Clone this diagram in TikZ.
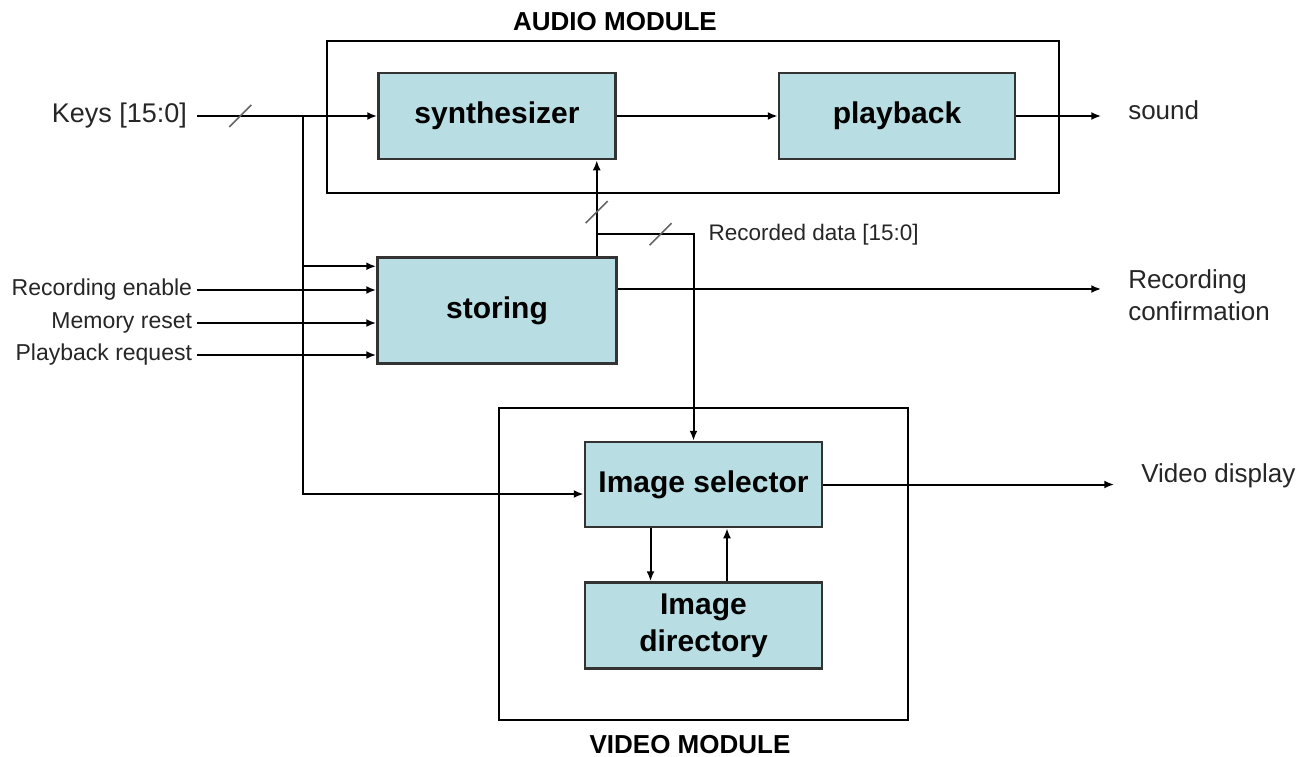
\documentclass[tikz,border=0pt]{standalone}
\usepackage{fontspec}
\setmainfont{Liberation Sans}
\usetikzlibrary{positioning}
\usetikzlibrary{calc}
\usetikzlibrary{arrows.meta}
\definecolor{blockfill}{RGB}{184,222,227}
\newcommand{\busmark}[1]{\draw[black!60,line width=1.6pt] ($(#1)+(-11,11)$) -- ($(#1)+(11,-11)$);}

\begin{document}
\begin{tikzpicture}[x=1pt,y=-1pt,line width=2pt,>={Latex[length=10pt,width=8pt]},
	cnode/.style={rectangle,draw=black!80,fill=blockfill,line width=2.5pt,inner sep=0pt,minimum width=237pt,minimum height=86pt,align=center,font=\fontsize{30}{37}\selectfont\bfseries},
	mnode/.style={rectangle,draw=black,line width=2pt,inner sep=0pt},
	mlabel/.style={font=\fontsize{26}{30}\selectfont\bfseries},
	inlabel/.style={anchor=east,inner sep=4pt,text=black!85,font=\fontsize{23}{28}\selectfont},
	outlabel/.style={anchor=west,inner sep=0pt,text=black!85,align=left,font=\fontsize{26}{32}\selectfont}]
		\useasboundingbox[fill=white] (0,0) rectangle (1314,757);
		% module frames
		\node[mnode,minimum width=732pt,minimum height=152pt] (audio) at (693,117) {};
		\node[mnode,minimum width=409pt,minimum height=312pt] (video) at (703.5,564) {};
		\node[mlabel] (audiolbl) at (615,22) {AUDIO MODULE};
		\node[mlabel] (videolbl) at (690,745) {VIDEO MODULE};
		% blocks
		\node[cnode] (synth) at (497,116) {synthesizer};
		\node[cnode,minimum width=236pt] (play)[right = 161pt of synth]{playback};
		\node[cnode,minimum width=239pt,minimum height=106pt] (store)[below = 96pt of synth]{storing};
		\node[cnode,minimum height=85pt] (sel) at (703.5,484.5) {Image selector};
		\node[cnode] (dir)[below = 53pt of sel]{Image\\directory};
		% inputs
		\node[inlabel,inner sep=9pt,font=\fontsize{27}{32}\selectfont] (keys) at (197,116) {Keys [15:0]};
		\node[inlabel] (recen) at (197,290) {Recording enable};
		\node[inlabel] (memrst) at (197,323) {Memory reset};
		\node[inlabel] (playreq) at (197,355) {Playback request};
		\draw[->] (keys.east) -- (synth.west) coordinate[pos=.24] (keyslash);
		\busmark{keyslash}
		\coordinate (bustop) at (303,116);
		\coordinate (busbot) at (303,494);
		\draw[->] (bustop) -- (busbot) -- (busbot -| sel.west);
		\coordinate (s1) at ($(store.north west)+(0,10)$);
		\draw[->] (s1 -| bustop) -- (s1);
		\draw[->] (recen) -- (recen -| store.west);
		\draw[->] (memrst) -- (memrst -| store.west);
		\draw[->] (playreq) -- (playreq -| store.west);
		% recorded data
		\coordinate (recout) at ($(store.north east)+(-21,0)$);
		\coordinate (recsplit) at ($(recout)+(0,-22)$);
		\coordinate (selin) at ($(sel.north)+(-10,0)$);
		\coordinate (reccorner) at (recsplit -| selin);
		\draw[->] (recout) -- (recout |- synth.south) coordinate[pos=.46] (recslash1);
		\busmark{recslash1}
		\draw[->] (recsplit) -| (selin) coordinate[pos=.33] (recslash2);
		\busmark{recslash2}
		\node[outlabel,inner sep=4pt,right = 10pt of reccorner,font=\fontsize{22.5}{27}\selectfont] (recdata) {Recorded data [15:0]};
		% image selector <-> directory
		\draw[->] ($(sel.south)+(-53,0)$) -- ($(dir.north)+(-53,0)$);
		\draw[->] ($(dir.north)+(23.5,0)$) -- ($(sel.south)+(23.5,0)$);
		% outputs
		\draw[->] (synth) -- (play);
		\coordinate (soundend) at ($(play.east)+(85,0)$);
		\draw[->] (play) -- (soundend);
		\node[outlabel,right = 26pt of soundend,yshift=6pt] (sound) {sound};
		\coordinate (confout) at ($(store.east)+(0,-21.5)$);
		\coordinate (confend) at (confout -| soundend);
		\draw[->] (confout) -- (confend);
		\node[outlabel,right = 26pt of confend,yshift=-6pt] (conf) {Recording\\confirmation};
		\coordinate (vidend) at ($(sel.east)+(291,0)$);
		\draw[->] (sel.east) -- (vidend);
		\node[outlabel,right = 26pt of vidend,yshift=9pt] (vid) {Video display};
	\end{tikzpicture}
\end{document}
